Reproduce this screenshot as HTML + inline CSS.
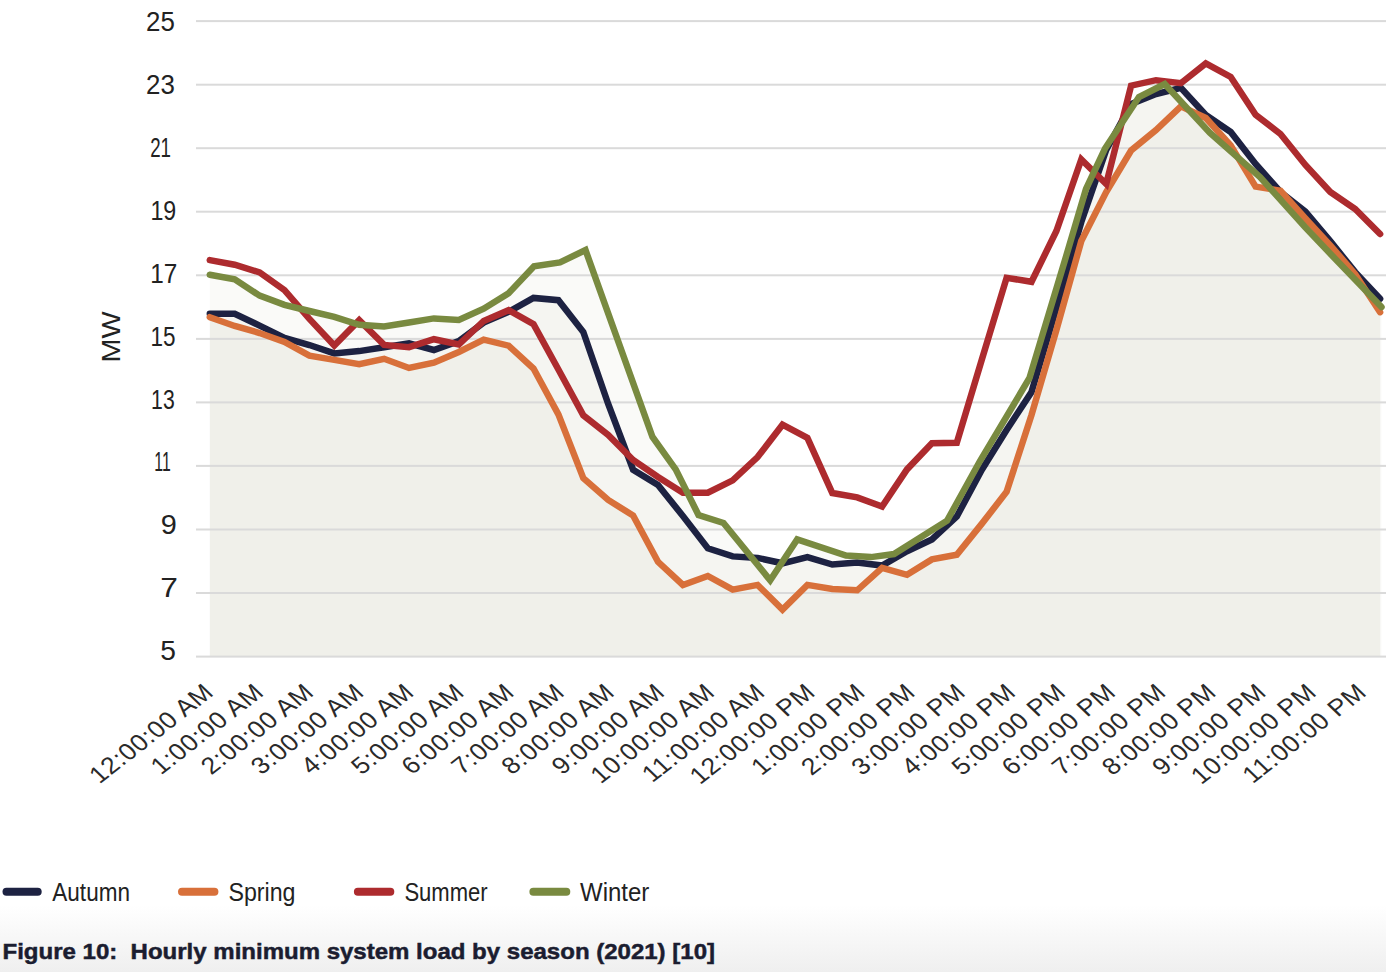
<!DOCTYPE html><html><head><meta charset="utf-8"><style>html,body{margin:0;padding:0;background:#fff;}body{width:1386px;height:972px;overflow:hidden;position:relative;font-family:"Liberation Sans",sans-serif;}svg{display:block;}</style></head><body>
<svg width="1386" height="972" viewBox="0 0 1386 972">
<defs><linearGradient id="bg" x1="0" y1="0" x2="0" y2="1"><stop offset="0" stop-color="#ffffff"/><stop offset="1" stop-color="#efefef"/></linearGradient></defs>
<rect x="0" y="0" width="1386" height="972" fill="#ffffff"/>
<rect x="0" y="905" width="1386" height="67" fill="url(#bg)"/>
<path d="M209.8,313.8 L234.7,313.8 L259.6,325.6 L284.5,338.0 L309.4,345.0 L334.3,353.4 L359.2,351.1 L384.1,347.2 L409.0,343.4 L433.9,350.0 L458.8,341.0 L483.7,322.6 L508.6,311.8 L533.5,297.9 L558.4,300.2 L583.3,332.0 L608.2,404.0 L633.1,469.7 L658.0,485.0 L682.9,516.0 L707.8,548.3 L732.7,556.4 L757.6,557.9 L782.5,563.3 L807.4,557.2 L832.3,564.5 L857.2,562.5 L882.1,565.6 L907.0,551.2 L931.9,539.4 L956.8,516.5 L981.7,470.0 L1006.6,430.0 L1031.5,392.0 L1056.4,308.0 L1081.3,222.0 L1106.2,150.0 L1131.1,104.0 L1156.0,94.0 L1180.9,87.8 L1205.8,115.0 L1230.7,132.0 L1255.6,164.0 L1280.5,192.0 L1305.4,211.5 L1330.3,241.2 L1355.2,272.1 L1380.1,298.8 L1380.1,656.6 L209.8,656.6 Z" fill="rgb(150,150,125)" fill-opacity="0.05"/>
<path d="M209.8,317.2 L234.7,326.0 L259.6,333.0 L284.5,341.9 L309.4,355.7 L334.3,359.9 L359.2,364.2 L384.1,358.8 L409.0,368.0 L433.9,362.7 L458.8,352.0 L483.7,339.6 L508.6,345.7 L533.5,368.5 L558.4,414.4 L583.3,478.1 L608.2,500.0 L633.1,515.5 L658.0,561.8 L682.9,585.0 L707.8,576.0 L732.7,589.6 L757.6,584.9 L782.5,609.6 L807.4,584.9 L832.3,589.0 L857.2,590.3 L882.1,567.9 L907.0,574.8 L931.9,559.4 L956.8,554.8 L981.7,523.9 L1006.6,491.8 L1031.5,415.0 L1056.4,330.0 L1081.3,241.0 L1106.2,192.0 L1131.1,150.5 L1156.0,130.0 L1180.9,106.3 L1205.8,118.0 L1230.7,145.5 L1255.6,186.6 L1280.5,190.7 L1305.4,218.5 L1330.3,245.3 L1355.2,274.1 L1380.1,312.2 L1380.1,656.6 L209.8,656.6 Z" fill="rgb(150,150,125)" fill-opacity="0.05"/>
<path d="M209.8,274.7 L234.7,279.4 L259.6,295.6 L284.5,304.8 L309.4,311.0 L334.3,316.8 L359.2,324.8 L384.1,326.4 L409.0,322.5 L433.9,318.4 L458.8,320.0 L483.7,308.7 L508.6,293.3 L534.0,266.3 L560.0,262.4 L585.5,250.1 L652.5,437.0 L675.7,469.4 L698.5,515.0 L723.5,523.0 L770.2,580.3 L797.2,539.4 L846.0,555.6 L871.0,557.1 L894.0,554.0 L947.0,520.8 L980.0,461.0 L1029.5,378.0 L1065.0,260.0 L1086.0,189.0 L1105.0,148.5 L1139.0,97.0 L1164.7,84.1 L1210.0,133.0 L1260.0,177.0 L1305.0,227.0 L1332.0,255.5 L1381.5,307.1 L1381.5,656.6 L209.8,656.6 Z" fill="rgb(150,150,125)" fill-opacity="0.05"/>
<rect x="196" y="20.1" width="1190" height="2" fill="#dadada"/>
<rect x="196" y="83.7" width="1190" height="2" fill="#dadada"/>
<rect x="196" y="147.2" width="1190" height="2" fill="#dadada"/>
<rect x="196" y="210.7" width="1190" height="2" fill="#dadada"/>
<rect x="196" y="274.3" width="1190" height="2" fill="#dadada"/>
<rect x="196" y="337.9" width="1190" height="2" fill="#dadada"/>
<rect x="196" y="401.4" width="1190" height="2" fill="#dadada"/>
<rect x="196" y="464.9" width="1190" height="2" fill="#dadada"/>
<rect x="196" y="528.5" width="1190" height="2" fill="#dadada"/>
<rect x="196" y="592.0" width="1190" height="2" fill="#dadada"/>
<rect x="196" y="655.6" width="1190" height="2" fill="#dadada"/>
<path d="M209.8,313.8 L234.7,313.8 L259.6,325.6 L284.5,338.0 L309.4,345.0 L334.3,353.4 L359.2,351.1 L384.1,347.2 L409.0,343.4 L433.9,350.0 L458.8,341.0 L483.7,322.6 L508.6,311.8 L533.5,297.9 L558.4,300.2 L583.3,332.0 L608.2,404.0 L633.1,469.7 L658.0,485.0 L682.9,516.0 L707.8,548.3 L732.7,556.4 L757.6,557.9 L782.5,563.3 L807.4,557.2 L832.3,564.5 L857.2,562.5 L882.1,565.6 L907.0,551.2 L931.9,539.4 L956.8,516.5 L981.7,470.0 L1006.6,430.0 L1031.5,392.0 L1056.4,308.0 L1081.3,222.0 L1106.2,150.0 L1131.1,104.0 L1156.0,94.0 L1180.9,87.8 L1205.8,115.0 L1230.7,132.0 L1255.6,164.0 L1280.5,192.0 L1305.4,211.5 L1330.3,241.2 L1355.2,272.1 L1380.1,298.8" fill="none" stroke="#1d2242" stroke-width="6.5" stroke-linejoin="miter" stroke-miterlimit="4" stroke-linecap="round"/>
<path d="M209.8,317.2 L234.7,326.0 L259.6,333.0 L284.5,341.9 L309.4,355.7 L334.3,359.9 L359.2,364.2 L384.1,358.8 L409.0,368.0 L433.9,362.7 L458.8,352.0 L483.7,339.6 L508.6,345.7 L533.5,368.5 L558.4,414.4 L583.3,478.1 L608.2,500.0 L633.1,515.5 L658.0,561.8 L682.9,585.0 L707.8,576.0 L732.7,589.6 L757.6,584.9 L782.5,609.6 L807.4,584.9 L832.3,589.0 L857.2,590.3 L882.1,567.9 L907.0,574.8 L931.9,559.4 L956.8,554.8 L981.7,523.9 L1006.6,491.8 L1031.5,415.0 L1056.4,330.0 L1081.3,241.0 L1106.2,192.0 L1131.1,150.5 L1156.0,130.0 L1180.9,106.3 L1205.8,118.0 L1230.7,145.5 L1255.6,186.6 L1280.5,190.7 L1305.4,218.5 L1330.3,245.3 L1355.2,274.1 L1380.1,312.2" fill="none" stroke="#d8703a" stroke-width="6.5" stroke-linejoin="miter" stroke-miterlimit="4" stroke-linecap="round"/>
<path d="M209.8,260.1 L234.7,264.7 L259.6,272.4 L284.5,290.2 L309.4,318.9 L334.3,345.5 L359.2,320.2 L384.1,344.9 L409.0,347.2 L433.9,339.2 L458.8,344.5 L483.7,321.0 L508.6,310.2 L533.5,324.1 L558.4,369.5 L583.3,415.4 L608.2,434.9 L633.1,460.0 L658.0,477.0 L682.9,492.8 L707.8,492.7 L732.7,480.3 L757.6,457.1 L782.5,424.7 L807.4,437.8 L832.3,493.0 L857.2,497.4 L882.1,506.5 L907.0,469.4 L931.9,443.2 L956.8,442.8 L981.7,360.0 L1006.6,277.8 L1031.5,281.8 L1056.4,231.0 L1081.3,159.5 L1106.2,184.0 L1131.1,85.7 L1156.0,80.2 L1180.9,83.2 L1205.8,63.4 L1230.7,77.0 L1255.6,114.8 L1280.5,134.0 L1305.4,165.0 L1330.3,192.0 L1355.2,209.0 L1380.1,234.0" fill="none" stroke="#ad2b2e" stroke-width="6.5" stroke-linejoin="miter" stroke-miterlimit="4" stroke-linecap="round"/>
<path d="M209.8,274.7 L234.7,279.4 L259.6,295.6 L284.5,304.8 L309.4,311.0 L334.3,316.8 L359.2,324.8 L384.1,326.4 L409.0,322.5 L433.9,318.4 L458.8,320.0 L483.7,308.7 L508.6,293.3 L534.0,266.3 L560.0,262.4 L585.5,250.1 L652.5,437.0 L675.7,469.4 L698.5,515.0 L723.5,523.0 L770.2,580.3 L797.2,539.4 L846.0,555.6 L871.0,557.1 L894.0,554.0 L947.0,520.8 L980.0,461.0 L1029.5,378.0 L1065.0,260.0 L1086.0,189.0 L1105.0,148.5 L1139.0,97.0 L1164.7,84.1 L1210.0,133.0 L1260.0,177.0 L1305.0,227.0 L1332.0,255.5 L1381.5,307.1" fill="none" stroke="#798a40" stroke-width="6.5" stroke-linejoin="miter" stroke-miterlimit="4" stroke-linecap="round"/>
<text transform="translate(146.08,30.70) scale(0.924,1)" font-size="28" fill="#222">25</text>
<text transform="translate(146.08,93.67) scale(0.924,1)" font-size="28" fill="#222">23</text>
<text transform="translate(150.13,156.64) scale(0.669,1)" font-size="28" fill="#222">21</text>
<text transform="translate(150.44,219.61) scale(0.829,1)" font-size="28" fill="#222">19</text>
<text transform="translate(150.36,282.58) scale(0.868,1)" font-size="28" fill="#222">17</text>
<text transform="translate(150.49,345.55) scale(0.804,1)" font-size="28" fill="#222">15</text>
<text transform="translate(151.09,408.52) scale(0.757,1)" font-size="28" fill="#222">13</text>
<text transform="translate(154.37,471.49) scale(0.565,1)" font-size="28" fill="#222">11</text>
<text transform="translate(160.87,534.46) scale(1.031,1)" font-size="28" fill="#222">9</text>
<text transform="translate(160.17,597.43) scale(1.131,1)" font-size="28" fill="#222">7</text>
<text transform="translate(160.29,660.40) scale(1.008,1)" font-size="28" fill="#222">5</text>
<text transform="translate(119.5,337) rotate(-90)" text-anchor="middle" font-size="26" fill="#222" textLength="51" lengthAdjust="spacingAndGlyphs">MW</text>
<text transform="translate(215.2,694) rotate(-38) skewX(8)" text-anchor="end" font-size="25" letter-spacing="0.6" fill="#2a2a2a">12:00:00 AM</text>
<text transform="translate(265.3,694) rotate(-38) skewX(8)" text-anchor="end" font-size="25" letter-spacing="0.6" fill="#2a2a2a">1:00:00 AM</text>
<text transform="translate(315.5,694) rotate(-38) skewX(8)" text-anchor="end" font-size="25" letter-spacing="0.6" fill="#2a2a2a">2:00:00 AM</text>
<text transform="translate(365.6,694) rotate(-38) skewX(8)" text-anchor="end" font-size="25" letter-spacing="0.6" fill="#2a2a2a">3:00:00 AM</text>
<text transform="translate(415.7,694) rotate(-38) skewX(8)" text-anchor="end" font-size="25" letter-spacing="0.6" fill="#2a2a2a">4:00:00 AM</text>
<text transform="translate(465.9,694) rotate(-38) skewX(8)" text-anchor="end" font-size="25" letter-spacing="0.6" fill="#2a2a2a">5:00:00 AM</text>
<text transform="translate(516.0,694) rotate(-38) skewX(8)" text-anchor="end" font-size="25" letter-spacing="0.6" fill="#2a2a2a">6:00:00 AM</text>
<text transform="translate(566.1,694) rotate(-38) skewX(8)" text-anchor="end" font-size="25" letter-spacing="0.6" fill="#2a2a2a">7:00:00 AM</text>
<text transform="translate(616.2,694) rotate(-38) skewX(8)" text-anchor="end" font-size="25" letter-spacing="0.6" fill="#2a2a2a">8:00:00 AM</text>
<text transform="translate(666.4,694) rotate(-38) skewX(8)" text-anchor="end" font-size="25" letter-spacing="0.6" fill="#2a2a2a">9:00:00 AM</text>
<text transform="translate(716.5,694) rotate(-38) skewX(8)" text-anchor="end" font-size="25" letter-spacing="0.6" fill="#2a2a2a">10:00:00 AM</text>
<text transform="translate(766.6,694) rotate(-38) skewX(8)" text-anchor="end" font-size="25" letter-spacing="0.6" fill="#2a2a2a">11:00:00 AM</text>
<text transform="translate(816.8,694) rotate(-38) skewX(8)" text-anchor="end" font-size="25" letter-spacing="0.6" fill="#2a2a2a">12:00:00 PM</text>
<text transform="translate(866.9,694) rotate(-38) skewX(8)" text-anchor="end" font-size="25" letter-spacing="0.6" fill="#2a2a2a">1:00:00 PM</text>
<text transform="translate(917.0,694) rotate(-38) skewX(8)" text-anchor="end" font-size="25" letter-spacing="0.6" fill="#2a2a2a">2:00:00 PM</text>
<text transform="translate(967.2,694) rotate(-38) skewX(8)" text-anchor="end" font-size="25" letter-spacing="0.6" fill="#2a2a2a">3:00:00 PM</text>
<text transform="translate(1017.3,694) rotate(-38) skewX(8)" text-anchor="end" font-size="25" letter-spacing="0.6" fill="#2a2a2a">4:00:00 PM</text>
<text transform="translate(1067.4,694) rotate(-38) skewX(8)" text-anchor="end" font-size="25" letter-spacing="0.6" fill="#2a2a2a">5:00:00 PM</text>
<text transform="translate(1117.5,694) rotate(-38) skewX(8)" text-anchor="end" font-size="25" letter-spacing="0.6" fill="#2a2a2a">6:00:00 PM</text>
<text transform="translate(1167.7,694) rotate(-38) skewX(8)" text-anchor="end" font-size="25" letter-spacing="0.6" fill="#2a2a2a">7:00:00 PM</text>
<text transform="translate(1217.8,694) rotate(-38) skewX(8)" text-anchor="end" font-size="25" letter-spacing="0.6" fill="#2a2a2a">8:00:00 PM</text>
<text transform="translate(1267.9,694) rotate(-38) skewX(8)" text-anchor="end" font-size="25" letter-spacing="0.6" fill="#2a2a2a">9:00:00 PM</text>
<text transform="translate(1318.1,694) rotate(-38) skewX(8)" text-anchor="end" font-size="25" letter-spacing="0.6" fill="#2a2a2a">10:00:00 PM</text>
<text transform="translate(1368.2,694) rotate(-38) skewX(8)" text-anchor="end" font-size="25" letter-spacing="0.6" fill="#2a2a2a">11:00:00 PM</text>
<line x1="6.5" y1="891.8" x2="37.7" y2="891.8" stroke="#1d2242" stroke-width="8" stroke-linecap="round"/>
<text x="52.3" y="900.6" font-size="25" fill="#222" textLength="77.7" lengthAdjust="spacingAndGlyphs">Autumn</text>
<line x1="182" y1="891.8" x2="214.4" y2="891.8" stroke="#d8703a" stroke-width="8" stroke-linecap="round"/>
<text x="228.5" y="900.6" font-size="25" fill="#222" textLength="67.0" lengthAdjust="spacingAndGlyphs">Spring</text>
<line x1="357.9" y1="891.8" x2="390.3" y2="891.8" stroke="#ad2b2e" stroke-width="8" stroke-linecap="round"/>
<text x="404.4" y="900.6" font-size="25" fill="#222" textLength="83.3" lengthAdjust="spacingAndGlyphs">Summer</text>
<line x1="533.4" y1="891.8" x2="566.3" y2="891.8" stroke="#798a40" stroke-width="8" stroke-linecap="round"/>
<text x="580" y="900.6" font-size="25" fill="#222" textLength="69.3" lengthAdjust="spacingAndGlyphs">Winter</text>
<text x="2.5" y="958.5" font-size="22.5" font-weight="bold" fill="#1b1d30" stroke="#1b1d30" stroke-width="0.5" textLength="712.5" lengthAdjust="spacingAndGlyphs" xml:space="preserve">Figure 10:  Hourly minimum system load by season (2021) [10]</text>
</svg></body></html>
